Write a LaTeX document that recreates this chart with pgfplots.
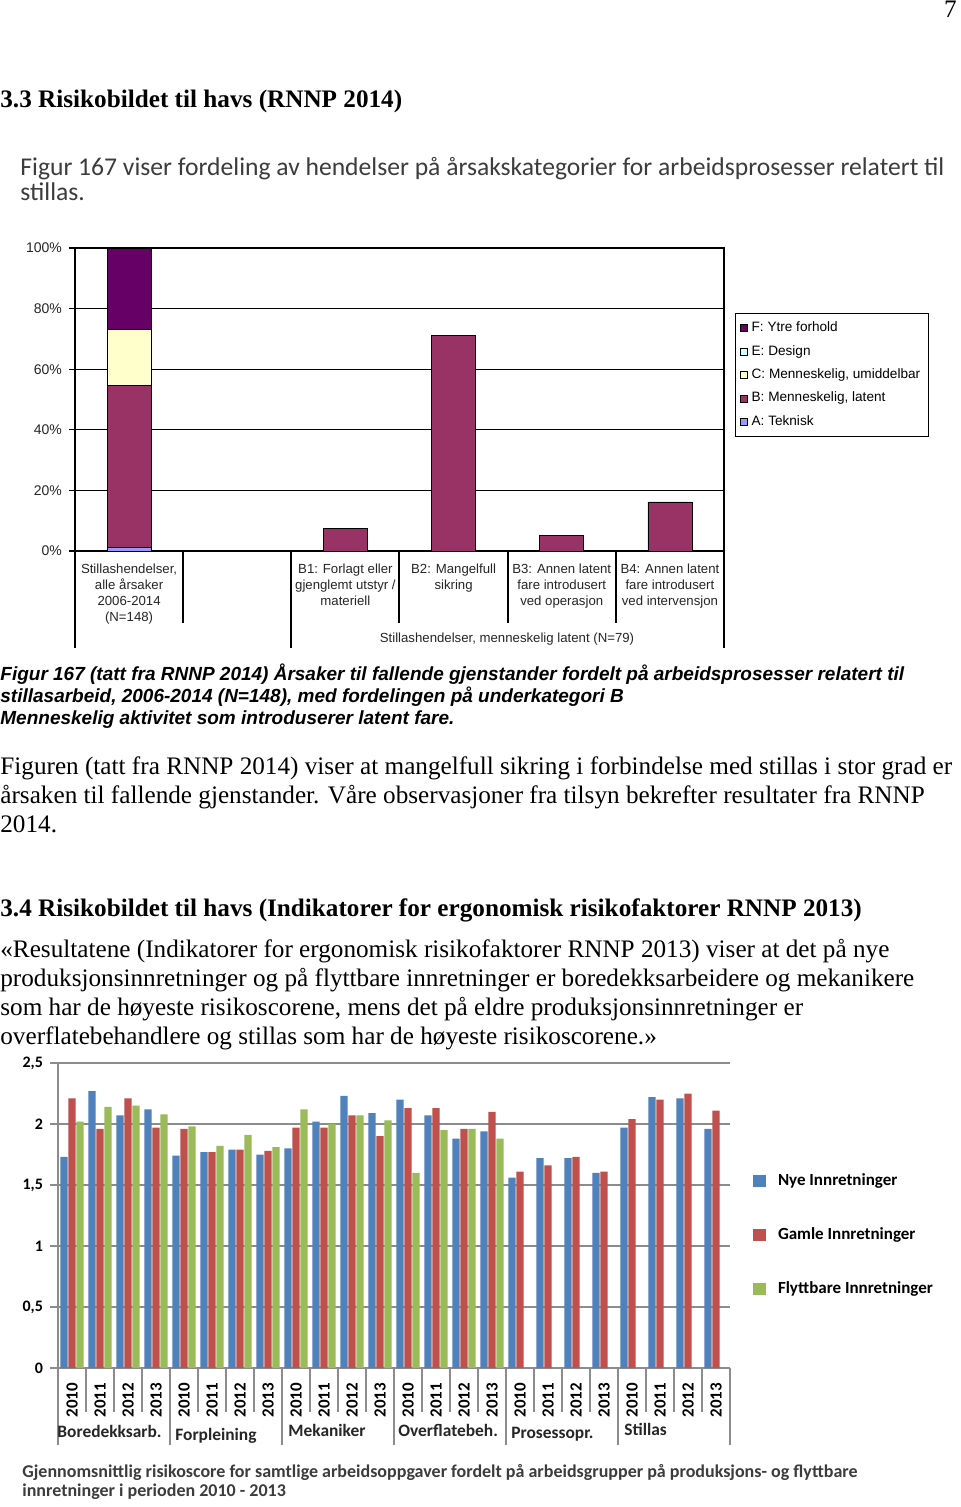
\documentclass[border=0pt]{standalone}
\usepackage{fontspec}
\setmainfont{Liberation Serif}
\newfontfamily\arial{Liberation Sans}
\newfontfamily\calibri{Carlito}
\usepackage{pgfplots}
\pgfplotsset{compat=1.18}

\definecolor{colF}{HTML}{660066}
\definecolor{colE}{HTML}{CCFFFF}
\definecolor{colC}{HTML}{FFFFCC}
\definecolor{colB}{HTML}{993366}
\definecolor{colA}{HTML}{9999FF}
\definecolor{nyeblue}{HTML}{4F81BD}
\definecolor{gamred}{HTML}{C0504D}
\definecolor{flygreen}{HTML}{9BBB59}
\definecolor{capgray}{HTML}{3C3C3C}
\definecolor{gridgray}{HTML}{8C8C8C}

\begin{document}
\begin{tikzpicture}
\begin{scope}[x=0.5pt,y=-0.5pt]
\fill[white] (0,0) rectangle (960,1507);
\useasboundingbox (0,0) rectangle (960,1507);

% page text
\begin{scope}[every node/.style={inner sep=0pt, anchor=base west}]
\node[anchor=base east, font=\fontsize{12.6}{14}\selectfont] at (957,18) {7};
\node[font=\bfseries\fontsize{12.6}{14}\selectfont] at (0,108) {3.3 Risikobildet til havs (RNNP 2014)};
\node[text=capgray, font=\calibri\fontsize{12.8}{15}\selectfont] at (20,176) {Figur 167 viser fordeling av hendelser på årsakskategorier for arbeidsprosesser relatert til};
\node[text=capgray, font=\calibri\fontsize{12.8}{15}\selectfont] at (20,201) {stillas.};
\node[font=\arial\bfseries\itshape\fontsize{9.5}{11}\selectfont] at (0,680) {Figur 167 (tatt fra RNNP 2014) Årsaker til fallende gjenstander fordelt på arbeidsprosesser relatert til};
\node[font=\arial\bfseries\itshape\fontsize{9.5}{11}\selectfont] at (0,702) {stillasarbeid, 2006-2014 (N=148), med fordelingen på underkategori B};
\node[font=\arial\bfseries\itshape\fontsize{9.5}{11}\selectfont] at (0,724) {Menneskelig aktivitet som introduserer latent fare.};
\node[font=\fontsize{12.6}{14}\selectfont] at (0,774) {Figuren (tatt fra RNNP 2014) viser at mangelfull sikring i forbindelse med stillas i stor grad er};
\node[font=\fontsize{12.6}{14}\selectfont] at (0,803) {årsaken til fallende gjenstander. Våre observasjoner fra tilsyn bekrefter resultater fra RNNP};
\node[font=\fontsize{12.6}{14}\selectfont] at (0,832) {2014.};
\node[font=\bfseries\fontsize{12.6}{14}\selectfont] at (0,916) {3.4 Risikobildet til havs (Indikatorer for ergonomisk risikofaktorer RNNP 2013)};
\node[font=\fontsize{12.6}{14}\selectfont] at (0,957) {«Resultatene (Indikatorer for ergonomisk risikofaktorer RNNP 2013) viser at det på nye};
\node[font=\fontsize{12.6}{14}\selectfont] at (0,986) {produksjonsinnretninger og på flyttbare innretninger er boredekksarbeidere og mekanikere};
\node[font=\fontsize{12.6}{14}\selectfont] at (0,1015) {som har de høyeste risikoscorene, mens det på eldre produksjonsinnretninger er};
\node[font=\fontsize{12.6}{14}\selectfont] at (0,1044) {overflatebehandlere og stillas som har de høyeste risikoscorene.»};
\node[text=capgray, font=\calibri\bfseries\fontsize{9}{11}\selectfont] at (22,1477) {Gjennomsnittlig risikoscore for samtlige arbeidsoppgaver fordelt på arbeidsgrupper på produksjons- og flyttbare};
\node[text=capgray, font=\calibri\bfseries\fontsize{9}{11}\selectfont] at (22,1496) {innretninger i perioden 2010 - 2013};
\end{scope}

\draw[black, line width=0.6pt] (75,551) -- (75,648) (724,551) -- (724,648) (291,551) -- (291,648)
  (183,551) -- (183,623) (399,551) -- (399,623) (508,551) -- (508,623) (616,551) -- (616,623);
\node[font=\arial\fontsize{6.6}{8}\selectfont, text=black!85] at (507,639) {Stillashendelser, menneskelig latent (N=79)};

\foreach \k in {1,2,3,5,6,7,9,10,11,13,14,15,17,18,19,21,22,23}
  \draw[gridgray, line width=0.8pt] ({58+28*\k},1368) -- ({58+28*\k},1412);
\foreach \k in {0,4,8,12,16,20,24}
  \draw[gridgray, line width=0.8pt] ({58+28*\k},1368) -- ({58+28*\k},1445);
\begin{scope}[every node/.style={inner sep=0pt, anchor=base west, font=\calibri\bfseries\fontsize{8.7}{10}\selectfont, text=black!85}]
\node at (57,1437) {Boredekksarb.};
\node at (175,1440) {Forpleining};
\node at (288,1436) {Mekaniker};
\node at (398,1436) {Overflatebeh.};
\node at (511,1438) {Prosessopr.};
\node at (624,1435) {Stillas};
\end{scope}
\end{scope}

% chart 1: stacked bar + B subcategories
\begin{axis}[
  at={(37.5pt,-275.5pt)}, anchor=south west,
  scale only axis, width=324.5pt, height=151.5pt,
  xmin=-0.5, xmax=5.5, ymin=0, ymax=100,
  ybar stacked, bar width=22pt,
  axis line style={black, line width=0.6pt},
  ymajorgrids, grid style={black, line width=0.6pt},
  ytick={0,20,40,60,80,100},
  yticklabels={0\%,20\%,40\%,60\%,80\%,100\%},
  yticklabel style={font=\arial\fontsize{7}{8}\selectfont, text=black!85},
  ytick style={black, line width=0.6pt},
  ytick pos=left,
  tick align=outside, major tick length=3pt,
  xtick={0,1,2,3,4,5},
  xticklabels={{Stillashendelser,\\alle årsaker\\2006-2014\\(N=148)},{},{B1: Forlagt eller\\gjenglemt utstyr /\\materiell},{B2: Mangelfull\\sikring},{B3: Annen latent\\fare introdusert\\ved operasjon},{B4: Annen latent\\fare introdusert\\ved intervensjon}},
  xticklabel style={align=center, font=\arial\fontsize{6.6}{8}\selectfont, text=black!85},
  xtick style={draw=none},
  legend image code/.code={\draw[#1] (0pt,-1.8pt) rectangle (3.6pt,1.8pt);},
  legend style={at={(1.017,0.785)}, anchor=north west, draw=black, line width=0.6pt,
    font=\arial\fontsize{6.8}{8}\selectfont, row sep=1.3pt, inner sep=2pt},
  legend cell align=left,
  reverse legend,
]
\addplot[fill=colA, draw=black, line width=0.4pt] coordinates {(0,1.1) (1,0) (2,0) (3,0) (4,0) (5,0)};
\addplot[fill=colB, draw=black, line width=0.4pt] coordinates {(0,53.4) (1,0) (2,7.4) (3,71.0) (4,5.0) (5,16.2)};
\addplot[fill=colC, draw=black, line width=0.4pt] coordinates {(0,18.6) (1,0) (2,0) (3,0) (4,0) (5,0)};
\addplot[fill=colE, draw=black, line width=0.4pt] coordinates {(0,0) (1,0) (2,0) (3,0) (4,0) (5,0)};
\addplot[fill=colF, draw=black, line width=0.4pt] coordinates {(0,26.9) (1,0) (2,0) (3,0) (4,0) (5,0)};
\legend{A: Teknisk, {B: Menneskelig, latent}, {C: Menneskelig, umiddelbar}, E: Design, F: Ytre forhold}
\end{axis}

% chart 2: risk scores
\begin{axis}[
  at={(29pt,-684pt)}, anchor=south west,
  scale only axis, width=336pt, height=152.5pt,
  xmin=-0.5, xmax=23.5, ymin=0, ymax=2.5,
  ybar=0.4pt, bar width=3.6pt,
  axis x line*=bottom, axis y line*=left,
  axis line style={gridgray, line width=1pt, -},
  ymajorgrids, grid style={gridgray, line width=1pt},
  ytick={0,0.5,1,1.5,2,2.5},
  yticklabels={0,{0,5},1,{1,5},2,{2,5}},
  yticklabel style={font=\calibri\bfseries\fontsize{8}{9}\selectfont},
  tick align=outside, major tick length=4pt,
  ytick style={gridgray, line width=1pt},
  xtick={0,...,23},
  xticklabels={2010,2011,2012,2013,2010,2011,2012,2013,2010,2011,2012,2013,2010,2011,2012,2013,2010,2011,2012,2013,2010,2011,2012,2013},
  xticklabel style={rotate=90, anchor=east, font=\calibri\bfseries\fontsize{8.5}{10}\selectfont},
  xtick style={draw=none},
  legend image code/.code={\fill[#1] (0pt,-3.2pt) rectangle (6.4pt,3.2pt);},
  legend style={at={(1.025,0.665)}, anchor=north west, draw=none, fill=none,
    font=\calibri\bfseries\fontsize{8.5}{10}\selectfont, row sep=15.5pt,
    /tikz/every odd column/.append style={column sep=4pt}},
  legend cell align=left,
]
\addplot[fill=nyeblue, draw=none] coordinates {
 (0,1.73) (1,2.27) (2,2.07) (3,2.12) (4,1.74) (5,1.77) (6,1.79) (7,1.75)
 (8,1.80) (9,2.02) (10,2.23) (11,2.09) (12,2.20) (13,2.07) (14,1.88) (15,1.94)
 (16,1.56) (17,1.72) (18,1.72) (19,1.60) (20,1.97) (21,2.22) (22,2.21) (23,1.96)};
\addplot[fill=gamred, draw=none] coordinates {
 (0,2.21) (1,1.96) (2,2.21) (3,1.97) (4,1.96) (5,1.77) (6,1.79) (7,1.78)
 (8,1.97) (9,1.97) (10,2.07) (11,1.90) (12,2.13) (13,2.13) (14,1.96) (15,2.10)
 (16,1.61) (17,1.66) (18,1.73) (19,1.61) (20,2.04) (21,2.20) (22,2.25) (23,2.11)};
\addplot[fill=flygreen, draw=none] coordinates {
 (0,2.02) (1,2.14) (2,2.15) (3,2.08) (4,1.98) (5,1.82) (6,1.91) (7,1.81)
 (8,2.12) (9,2.00) (10,2.07) (11,2.03) (12,1.60) (13,1.95) (14,1.96) (15,1.88)};
\legend{Nye Innretninger, Gamle Innretninger, Flyttbare Innretninger}
\end{axis}
\end{tikzpicture}
\end{document}
